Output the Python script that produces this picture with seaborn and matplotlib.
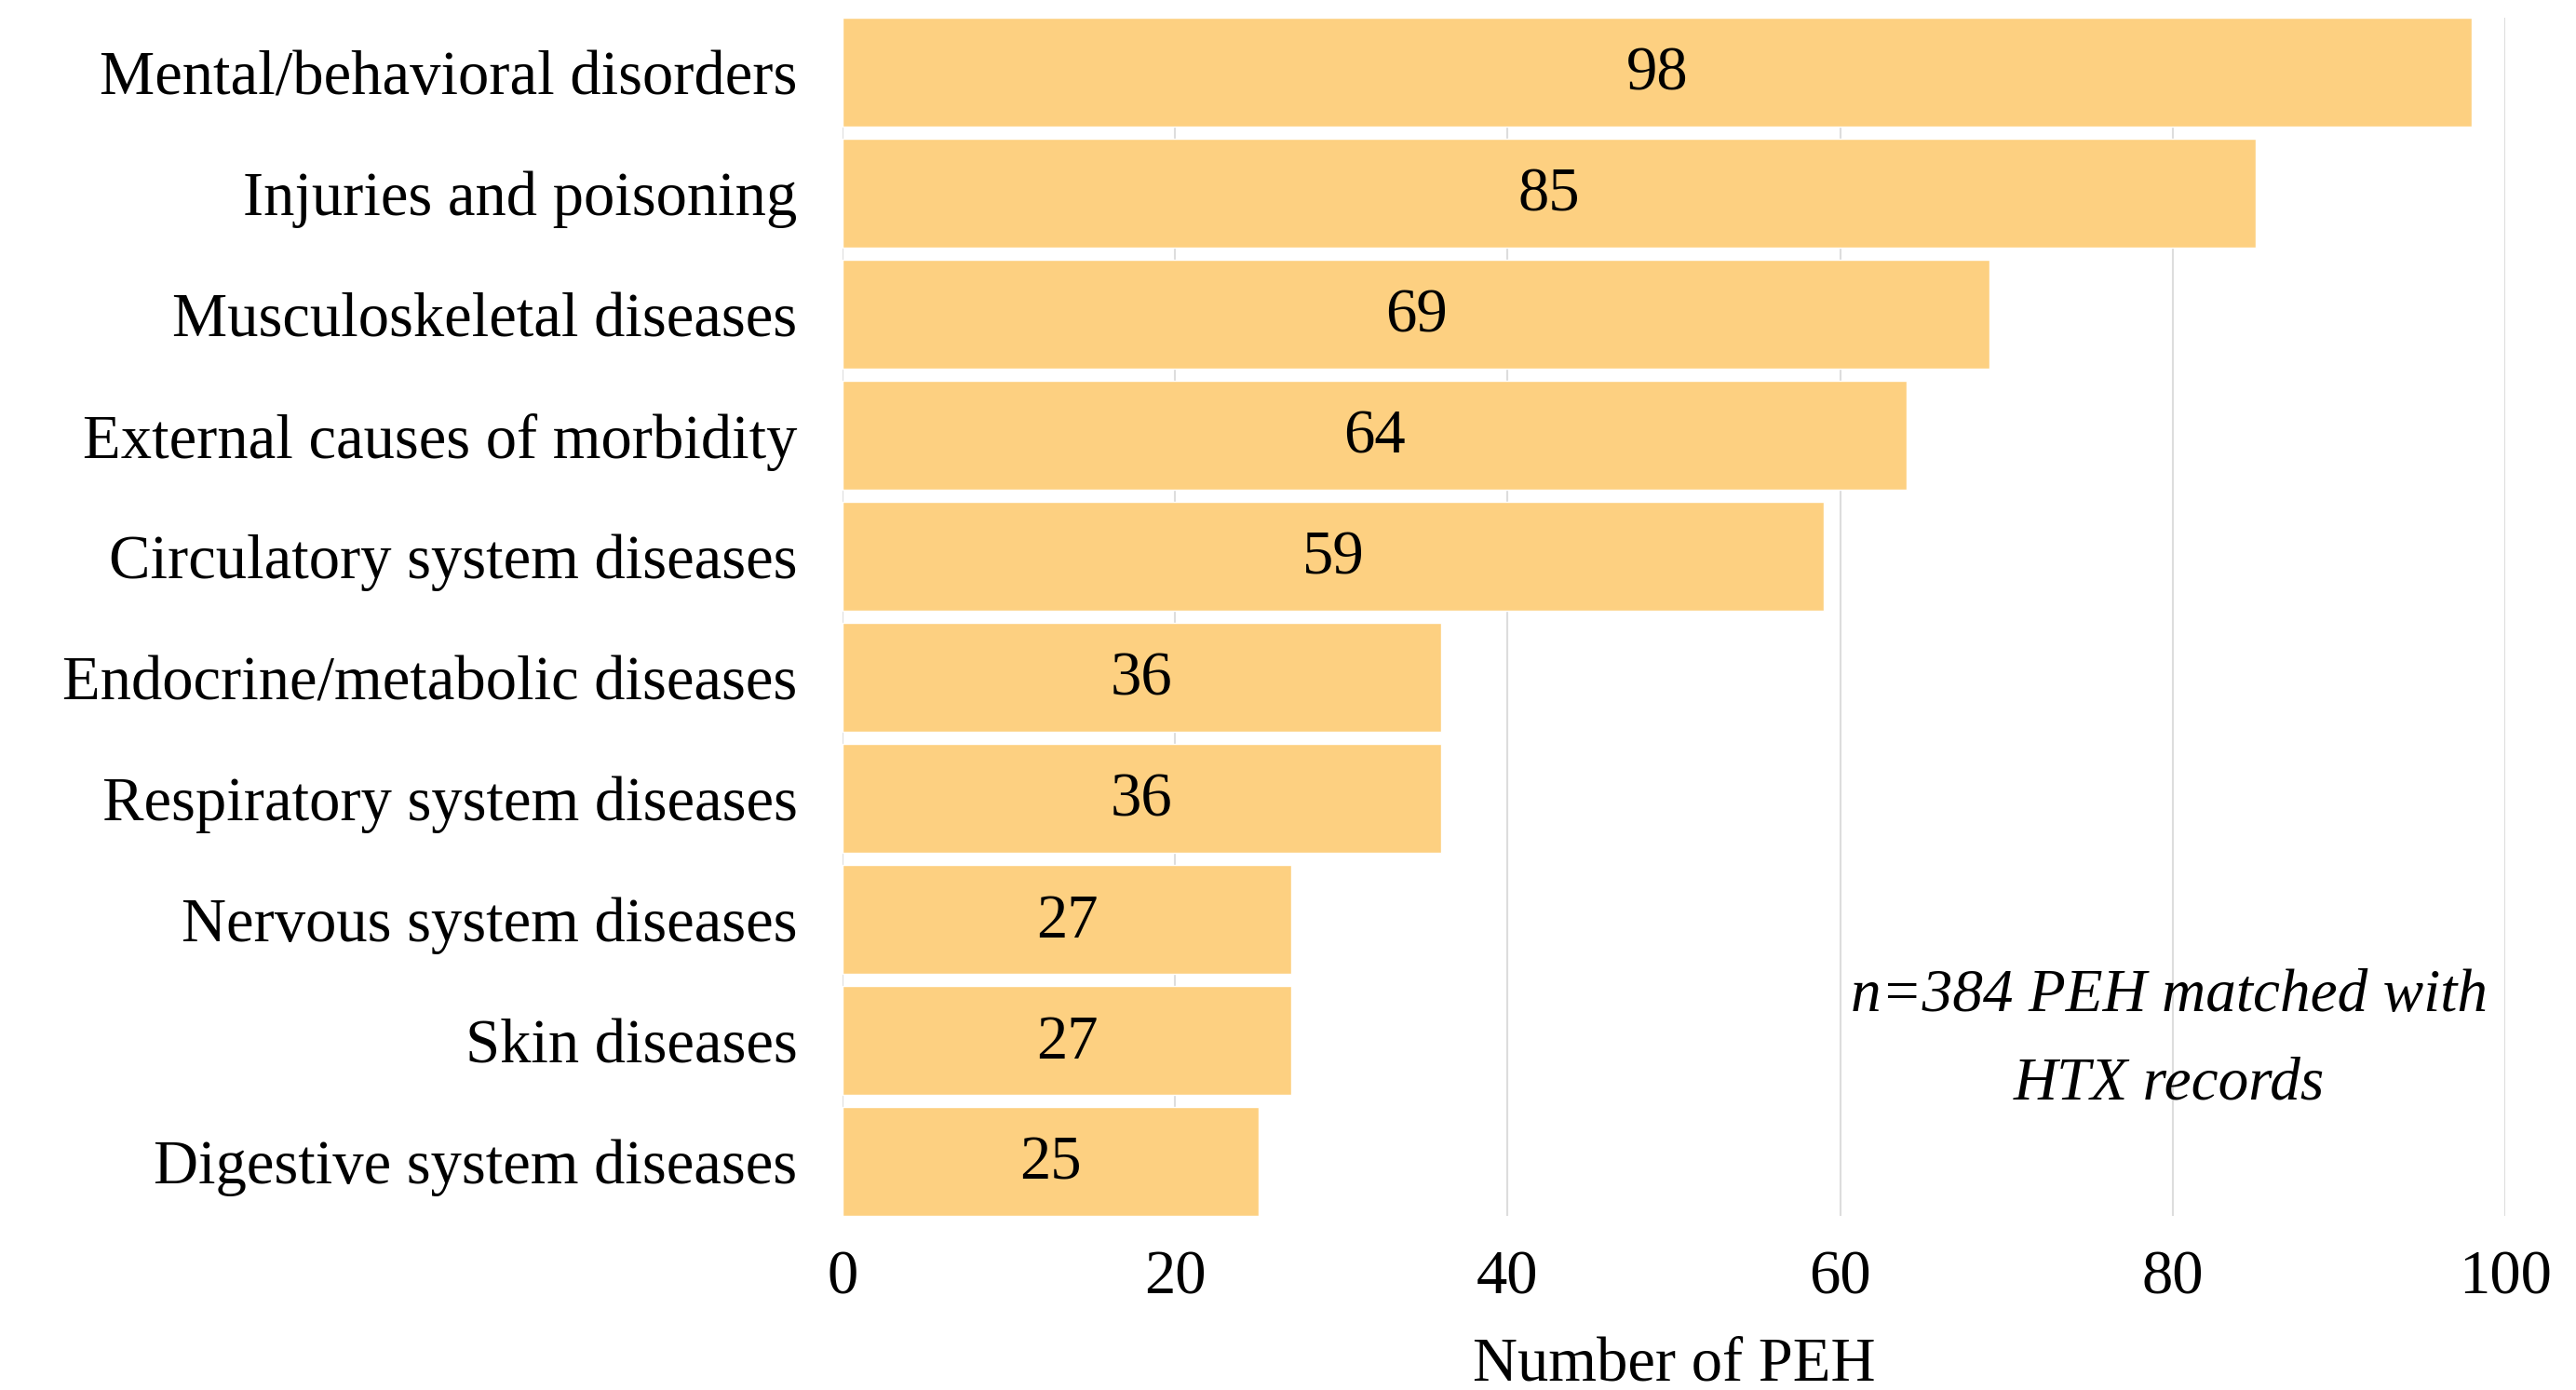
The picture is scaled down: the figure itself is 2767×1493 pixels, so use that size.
import matplotlib
matplotlib.use("Agg")
import matplotlib.pyplot as plt
import seaborn as sns
import pandas as pd

categories = [
    "Mental/behavioral disorders",
    "Injuries and poisoning",
    "Musculoskeletal diseases",
    "External causes of morbidity",
    "Circulatory system diseases",
    "Endocrine/metabolic diseases",
    "Respiratory system diseases",
    "Nervous system diseases",
    "Skin diseases",
    "Digestive system diseases",
]
values = [98, 85, 69, 64, 59, 36, 36, 27, 27, 25]
x_ticks = [0, 20, 40, 60, 80, 100]
x_label = "Number of PEH"
note = "n=384 PEH matched with\nHTX records"

df = pd.DataFrame({"category": categories, "value": values})

sns.set_theme(style="white")
plt.rcParams["font.family"] = ["Liberation Serif", "DejaVu Serif"]
plt.rcParams["text.color"] = "black"
plt.rcParams["xtick.color"] = "black"
plt.rcParams["ytick.color"] = "black"
plt.rcParams["axes.labelcolor"] = "black"

FS = 48

fig = plt.figure(figsize=(27.67, 14.93), dpi=100)
ax = fig.add_axes([905 / 2767, 1 - 1306 / 1493, (2691 - 905) / 2767, (1306 - 19) / 1493])

sns.barplot(data=df, x="value", y="category", orient="h", color="#FDD081",
            saturation=1, width=0.9, ax=ax, zorder=2)

ax.set_xlim(0, 100)
ax.set_ylim(len(categories) - 1 + 0.45, -0.45)
ax.set_xticks(x_ticks)
ax.set_xticklabels([str(t) for t in x_ticks])
ax.xaxis.grid(True, color="#DDDDDD", linewidth=1.5, zorder=0)
ax.yaxis.grid(False)
ax.set_axisbelow(True)
for s in ax.spines.values():
    s.set_visible(False)
ax.tick_params(axis="both", length=0, labelsize=FS, colors="black")
ax.tick_params(axis="x", pad=26)
ax.tick_params(axis="y", pad=35)
ax.set_ylabel("")
ax.set_xlabel(x_label, fontsize=FS, labelpad=23, color="black")

for p, v in zip(ax.patches, values):
    ax.text(p.get_x() + p.get_width() / 2, p.get_y() + p.get_height() / 2 + 0.02, str(v),
            ha="center", va="center", fontsize=FS, color="black")

ax.text(79.8, 8.0, note, ha="center", va="center", fontsize=FS - 1, style="italic",
        linespacing=1.75, color="black")

fig.savefig("out.png", dpi=100)
